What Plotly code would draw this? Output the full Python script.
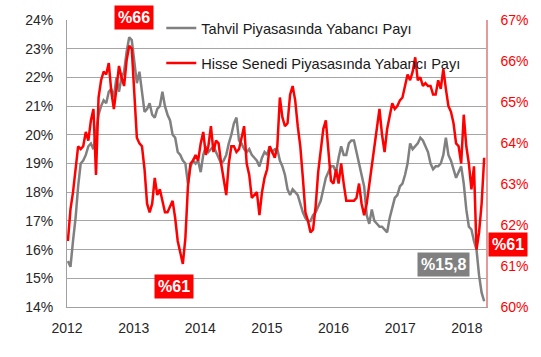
import pandas as pd
import plotly.graph_objects as go

# Biweekly observations, Jan 2012 - Apr 2018
start_date = "2012-01-06"

bond_share = [  # Tahvil Piyasasında Yabancı Payı (%), left axis
    15.6, 15.4, 16.3, 17.1, 18.2, 19.0, 19.1, 19.3, 19.6, 19.7,
    19.5, 20.2, 20.7, 21.0, 21.2, 21.1, 21.5, 21.6, 21.3, 22.0,
    21.5, 22.0, 22.2, 22.9, 23.4, 23.3, 22.5, 21.8, 22.2, 21.4,
    20.8, 20.9, 21.1, 20.7, 20.6, 20.9, 21.0, 21.5, 21.0, 20.7,
    20.5, 20.0, 19.9, 19.4, 19.3, 19.1, 19.0, 18.3, 18.9, 19.1,
    19.0, 19.1, 18.7, 19.3, 19.6, 19.4, 19.5, 19.6, 19.4, 19.2,
    19.0, 19.1, 19.3, 19.7, 20.0, 20.4, 20.6, 19.8, 19.7, 19.5,
    19.4, 19.5, 19.3, 19.2, 19.1, 18.9, 19.2, 19.4, 19.3, 19.6,
    19.4, 19.5, 19.5, 19.1, 18.9, 18.6, 18.1, 17.9, 18.1, 18.0,
    17.9, 17.6, 17.3, 17.1, 17.0, 17.0, 17.2, 17.3, 17.5, 17.7,
    18.1, 18.5, 18.7, 18.9, 18.9, 18.7, 19.2, 19.6, 19.3, 19.3,
    19.7, 19.8, 19.8, 19.4, 18.9, 18.5, 18.2, 17.2, 16.9, 17.4,
    17.0, 16.9, 16.8, 16.8, 16.7, 16.6, 17.1, 17.5, 17.8, 17.9,
    18.2, 18.3, 18.6, 19.0, 19.7, 19.5, 19.6, 19.7, 19.9, 19.8,
    19.6, 19.4, 19.0, 18.8, 18.9, 18.9, 19.0, 19.3, 19.9, 19.3,
    19.1, 18.8, 18.5, 18.7, 18.9, 18.3, 17.4, 16.8, 16.7, 16.3,
    16.0, 15.1, 14.5, 14.2,
]

equity_share = [  # Hisse Senedi Piyasasında Yabancı Payı (%), right axis
    61.61, 62.38, 62.80, 63.29, 63.92, 63.85, 63.92, 64.27, 64.06, 64.55,
    64.83, 63.22, 65.11, 65.53, 65.74, 65.67, 65.95, 65.25, 64.83, 65.32,
    65.88, 65.60, 65.39, 66.02, 66.37, 66.30, 65.18, 64.13, 63.99, 63.92,
    63.36, 62.52, 62.31, 62.52, 63.15, 62.73, 62.87, 62.59, 62.31, 62.31,
    62.45, 62.59, 62.17, 61.61, 61.33, 61.05, 61.68, 62.94, 63.50, 63.57,
    63.71, 63.57, 63.99, 64.27, 63.71, 63.92, 64.41, 63.78, 64.06, 63.99,
    63.50, 63.08, 62.73, 63.50, 63.92, 63.92, 63.78, 63.85, 64.13, 64.41,
    63.50, 63.22, 62.66, 62.73, 62.80, 62.24, 62.80, 63.15, 63.36, 63.92,
    63.78, 63.64, 63.92, 65.11, 64.62, 64.41, 64.48, 65.18, 65.39, 65.04,
    64.41, 63.92, 63.15, 62.31, 62.10, 61.82, 61.89, 62.45, 63.29, 63.85,
    64.34, 64.55, 63.85, 63.08, 63.01, 63.36, 63.01, 63.50, 63.01, 62.59,
    62.59, 62.59, 62.59, 62.66, 63.01, 62.52, 62.24, 62.52, 63.01, 63.36,
    63.99, 64.41, 64.83, 64.20, 63.78, 64.34, 64.62, 64.97, 64.83, 64.90,
    65.04, 65.11, 65.39, 65.67, 65.53, 65.74, 66.09, 65.53, 65.60, 65.39,
    65.46, 65.39, 65.39, 65.18, 65.18, 65.53, 65.32, 65.81, 65.32, 64.90,
    64.76, 64.48, 63.99, 63.92, 63.50, 64.69, 63.92, 63.50, 62.87, 63.43,
    61.40, 61.82, 62.52, 63.64,
]

left_ticks = list(range(14, 25))
right_ticks = list(range(60, 68))
year_ticks = ["2012", "2013", "2014", "2015", "2016", "2017", "2018"]

dates = pd.date_range(start_date, periods=len(bond_share), freq="14D")

FONT = "Liberation Sans, Arial, sans-serif"

fig = go.Figure()
fig.add_trace(go.Scatter(
    x=dates, y=bond_share, mode="lines", name="Tahvil Piyasasında Yabancı Payı",
    line=dict(color="#808080", width=2.5), legendgroup="a",
))
fig.add_trace(go.Scatter(
    x=dates, y=equity_share, mode="lines", name="Hisse Senedi Piyasasında Yabancı Payı",
    line=dict(color="#FF0000", width=2.5), yaxis="y2", legendgroup="b",
))

fig.update_layout(
    width=541, height=357,
    margin=dict(l=67, r=55, t=18, b=50),
    paper_bgcolor="white", plot_bgcolor="white",
    font=dict(family=FONT, size=14, color="#262626"),
    showlegend=True,
    legend=dict(
        x=0.225, y=1.028, xanchor="left", yanchor="top",
        bgcolor="rgba(0,0,0,0)", traceorder="grouped", tracegroupgap=13,
        font=dict(size=14.6, color="#1a1a1a"),
    ),
    xaxis=dict(
        type="date", range=["2012-01-01", "2018-04-16"],
        tickvals=[f"{y}-01-01" for y in year_ticks], ticktext=year_ticks,
        showgrid=False, showline=True, linecolor="#A0A0A0", linewidth=1,
        ticks="", ticklabelstandoff=8, tickfont=dict(size=14, color="#262626"),
    ),
    yaxis=dict(
        range=[14, 24], tickvals=left_ticks, ticktext=[f"{v}%" for v in left_ticks],
        showgrid=True, gridcolor="#A6A6A6", gridwidth=1,
        showline=True, linecolor="#A0A0A0", linewidth=1, zeroline=False,
        ticks="", ticklabelstandoff=10, tickfont=dict(size=14, color="#262626"),
    ),
    yaxis2=dict(
        range=[60, 67], tickvals=right_ticks, ticktext=[f"{v}%" for v in right_ticks],
        overlaying="y", side="right", showgrid=False, zeroline=False,
        showline=True, linecolor="#E39A9A", linewidth=1.5,
        ticks="", ticklabelstandoff=10, tickfont=dict(size=14, color="#FF0000"),
    ),
)

def box(text, x, y, bg):
    fig.add_annotation(
        text=f"<b>{text}</b>", xref="paper", yref="paper", x=x, y=y,
        xanchor="center", yanchor="middle", showarrow=False,
        font=dict(family=FONT, size=16, color="white"),
        bgcolor=bg, borderpad=3,
    )

box("%66", 0.161, 1.0104, "#FF0000")
box("%61", 0.2554, 0.0727, "#FF0000")
box("%15,8", 0.8986, 0.147, "#808080")
box("%61", 1.0525, 0.2163, "#FF0000")

fig.write_html(
    "out.html",
    config={"displayModeBar": False},
    post_script="document.body.style.margin='0px';",
)
